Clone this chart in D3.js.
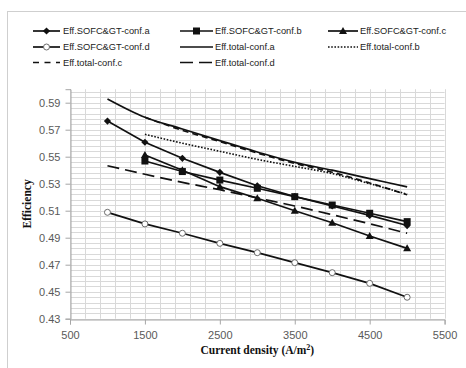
<!DOCTYPE html>
<html>
<head>
<meta charset="utf-8">
<script src="https://cdn.jsdelivr.net/npm/d3@7"></script>
<style>
  body { margin: 0; background: #fff; }
  svg { display: block; }
  .tick text { font-family: "Liberation Sans", Arial, sans-serif; font-size: 11px; fill: #595959; }
  .legend text { font-family: "Liberation Sans", Arial, sans-serif; font-size: 9.3px; fill: #222; }
  .axis-title { font-family: "Liberation Serif", "Times New Roman", serif; font-weight: bold; fill: #111; }
</style>
</head>
<body>
<svg id="chart" width="466" height="368"></svg>
<script>
// Efficiency vs current density - SOFC&GT and total efficiency for four configurations

const currentFull = [1000, 1500, 2000, 2500, 3000, 3500, 4000, 4500, 5000];
const currentFrom1500 = [1500, 2000, 2500, 3000, 3500, 4000, 4500, 5000];

const sofcA = [0.5764, 0.5607, 0.5488, 0.5384, 0.5285, 0.5205, 0.5135, 0.5065, 0.4990];
const sofcB = [0.5468, 0.5390, 0.5327, 0.5266, 0.5204, 0.5142, 0.5081, 0.5019];
const sofcC = [0.5513, 0.5400, 0.5278, 0.5192, 0.5100, 0.5011, 0.4913, 0.4821];
const sofcD = [0.5088, 0.5002, 0.4933, 0.4858, 0.4789, 0.4715, 0.4641, 0.4562, 0.4459];
const totalA = [0.5928, 0.5792, 0.5705, 0.5619, 0.5535, 0.5458, 0.5400, 0.5338, 0.5276];
const totalB = [0.5666, 0.5600, 0.5540, 0.5480, 0.5428, 0.5375, 0.5300, 0.5222];
const totalC = [0.5792, 0.5695, 0.5612, 0.5527, 0.5450, 0.5385, 0.5305, 0.5218];
const totalD = [0.5433, 0.5370, 0.5310, 0.5255, 0.5195, 0.5135, 0.5070, 0.5003, 0.4933];

const xTicks = [500, 1500, 2500, 3500, 4500, 5500];
const yTicks = [0.43, 0.45, 0.47, 0.49, 0.51, 0.53, 0.55, 0.57, 0.59];

const series = [
  { name: 'Eff.SOFC&GT-conf.a', xs: currentFull, ys: sofcA, marker: 'diamond', dash: null, legDash: null },
  { name: 'Eff.SOFC&GT-conf.b', xs: currentFrom1500, ys: sofcB, marker: 'square', dash: null, legDash: null },
  { name: 'Eff.SOFC&GT-conf.c', xs: currentFrom1500, ys: sofcC, marker: 'triangle', dash: null, legDash: null },
  { name: 'Eff.SOFC&GT-conf.d', xs: currentFull, ys: sofcD, marker: 'circle', dash: null, legDash: null },
  { name: 'Eff.total-conf.a', xs: currentFull, ys: totalA, marker: null, dash: null, legDash: null },
  { name: 'Eff.total-conf.b', xs: currentFrom1500, ys: totalB, marker: null, dash: '1.6,1.6', legDash: '1.6,1.6' },
  { name: 'Eff.total-conf.c', xs: currentFrom1500, ys: totalC, marker: null, dash: '6,4', legDash: '6,5.5' },
  { name: 'Eff.total-conf.d', xs: currentFull, ys: totalD, marker: null, dash: '12,6', legDash: '13,6' }
];

const svg = d3.select('#chart');

// Outer chart frame
svg.append('rect')
  .attr('x', 7.5).attr('y', 11.5)
  .attr('width', 470).attr('height', 370)
  .attr('fill', 'none')
  .attr('stroke', '#cfcfcf');

const x = d3.scaleLinear().domain([500, 5500]).range([70, 444.6]);
const y = d3.scaleLinear().domain([0.43, 0.60]).range([318.7, 89.2]);

// Gridlines (minor units: 200 on x, 0.004 on y)
const grid = svg.append('g').attr('class', 'grid');
d3.range(500, 5501, 200).forEach(v => {
  grid.append('line')
    .attr('x1', Math.round(x(v)) + 0.5).attr('x2', Math.round(x(v)) + 0.5)
    .attr('y1', y(0.60)).attr('y2', y(0.43))
    .attr('stroke', '#d9d9d9');
});
d3.range(0, 43).forEach(k => {
  const v = 0.43 + k * 0.004;
  grid.append('line')
    .attr('x1', x(500)).attr('x2', x(5500))
    .attr('y1', Math.round(y(v)) + 0.5).attr('y2', Math.round(y(v)) + 0.5)
    .attr('stroke', '#d9d9d9');
});

// Axes
const yAxis = svg.append('g')
  .attr('transform', `translate(${Math.round(x(500)) + 0.5},0)`)
  .call(d3.axisLeft(y).tickValues(yTicks).tickFormat(d3.format('.2f')).tickSize(5).tickPadding(5));
const xAxis = svg.append('g')
  .attr('transform', `translate(0,${Math.round(y(0.43)) + 0.5})`)
  .call(d3.axisBottom(x).tickValues(xTicks).tickFormat(d3.format('d')).tickSize(5).tickPadding(7));
[yAxis, xAxis].forEach(a => {
  a.select('.domain').attr('stroke', '#a6a6a6');
  a.selectAll('.tick line').attr('stroke', '#a6a6a6');
});

// Marker drawing
function drawMarker(g, type, cx, cy) {
  if (type === 'diamond') {
    g.append('path')
      .attr('d', `M${cx},${cy - 3.6}L${cx + 3.6},${cy}L${cx},${cy + 3.6}L${cx - 3.6},${cy}Z`)
      .attr('fill', '#111');
  } else if (type === 'square') {
    g.append('rect')
      .attr('x', cx - 3.5).attr('y', cy - 3.5)
      .attr('width', 7).attr('height', 7)
      .attr('fill', '#111');
  } else if (type === 'triangle') {
    g.append('path')
      .attr('d', `M${cx},${cy - 4}L${cx + 4},${cy + 3}L${cx - 4},${cy + 3}Z`)
      .attr('fill', '#111');
  } else if (type === 'circle') {
    g.append('circle')
      .attr('cx', cx).attr('cy', cy).attr('r', 3)
      .attr('fill', '#fff')
      .attr('stroke', '#6b6b6b')
      .attr('stroke-width', 1);
  }
}

const line = d3.line()
  .x(d => x(d[0]))
  .y(d => y(d[1]));

const plot = svg.append('g').attr('class', 'plot');

// Draw total lines first, then SOFC lines with markers on top
const order = [4, 5, 7, 6, 3, 1, 2, 0];
order.forEach(i => {
  const s = series[i];
  const pts = s.xs.map((v, j) => [v, s.ys[j]]);
  const curve = s.marker ? d3.curveLinear : d3.curveMonotoneX;
  plot.append('path')
    .datum(pts)
    .attr('d', line.curve(curve))
    .attr('fill', 'none')
    .attr('stroke', '#111')
    .attr('stroke-width', s.dash === '1.6,1.6' ? 1.6 : 1.7)
    .attr('stroke-dasharray', s.dash);
  if (s.marker) {
    pts.forEach(p => drawMarker(plot, s.marker, x(p[0]), y(p[1])));
  }
});

// Legend
const legend = svg.append('g').attr('class', 'legend');
const colX = [[33, 60, 63], [180, 213, 215], [328, 358, 360]];
const rowY = [31, 47, 62.5];
series.forEach((s, i) => {
  const c = colX[i % 3];
  const ry = rowY[Math.floor(i / 3)];
  legend.append('line')
    .attr('x1', c[0]).attr('x2', c[1])
    .attr('y1', ry).attr('y2', ry)
    .attr('stroke', '#111')
    .attr('stroke-width', 1.7)
    .attr('stroke-dasharray', s.legDash);
  if (s.marker) drawMarker(legend, s.marker, (c[0] + c[1]) / 2, ry);
  legend.append('text')
    .attr('x', c[2]).attr('y', ry + 3.3)
    .text(s.name);
});

// Axis titles
svg.append('text')
  .attr('class', 'axis-title')
  .attr('transform', `translate(31,${(y(0.43) + y(0.60)) / 2}) rotate(-90)`)
  .attr('text-anchor', 'middle')
  .attr('font-size', 11.5)
  .text('Efficiency');

const xt = svg.append('text')
  .attr('class', 'axis-title')
  .attr('x', (x(500) + x(5500)) / 2)
  .attr('y', 354)
  .attr('text-anchor', 'middle')
  .attr('font-size', 11.5);
xt.append('tspan').text('Current density (A/m');
xt.append('tspan').attr('dy', -4).attr('font-size', 8).text('2');
xt.append('tspan').attr('dy', 4).text(')');
</script>
</body>
</html>
